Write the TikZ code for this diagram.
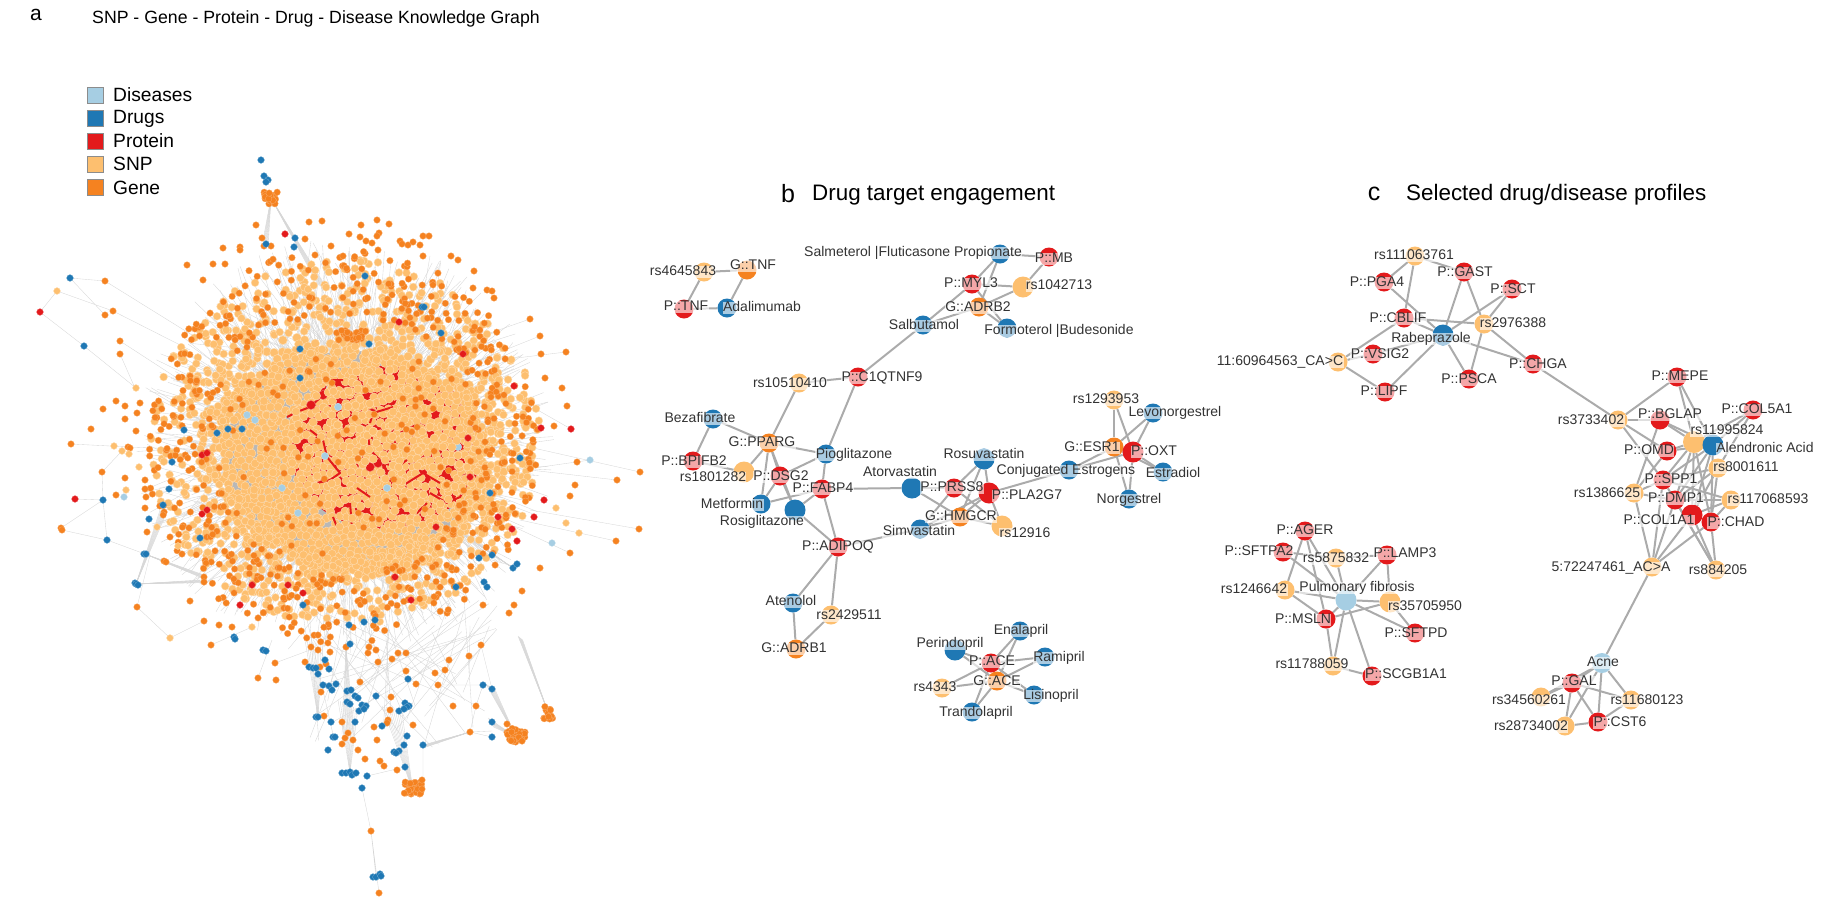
\documentclass[tikz,border=0pt]{standalone}
\usepackage{fontspec}
\setmainfont{Liberation Sans}
\usetikzlibrary{backgrounds}
\definecolor{cDis}{HTML}{A6CEE3}
\definecolor{cDrug}{HTML}{1F78B4}
\definecolor{cProt}{HTML}{E31A1C}
\definecolor{cSnp}{HTML}{FDBF6F}
\definecolor{cGene}{HTML}{F58220}
\definecolor{cLnk}{HTML}{ABABAB}
\newcommand{\dotlist}[3]{\foreach \p in {#3} \filldraw[#1] \p circle (#2);}
% cluster of dots round one spot
\newcommand{\dotblob}[6]{\foreach \k in {1,...,#6} {
    \pgfmathsetmacro\bx{#2+rand*#4}
    \pgfmathsetmacro\by{#3+rand*#5}
    \filldraw[#1] (\bx,\by) circle (3.3);}}
% bundle of wires from one spot to a run of spots
\newcommand{\wirefan}[5]{\foreach \k in {0,...,9} \draw[wire] (#1) -- ({#2+\k*#4},{#3+\k*#5});}
\tikzset{
  dis/.style={circle,fill=cDis,minimum size=20pt,inner sep=0pt},
  drug/.style={circle,fill=cDrug,minimum size=19pt,inner sep=0pt},
  prot/.style={circle,fill=cProt,minimum size=19pt,inner sep=0pt},
  snp/.style={circle,fill=cSnp,minimum size=19pt,inner sep=0pt},
  gene/.style={circle,fill=cGene,minimum size=19pt,inner sep=0pt},
  lab/.style={font=\fontsize{14}{14}\selectfont,text=black!80,fill=white,fill opacity=.62,text opacity=1,inner xsep=.4pt,inner ysep=0pt,text height=10pt,text depth=2.5pt},
  lnk/.style={draw=cLnk,line width=2pt},
  wire/.style={draw=black!16,line width=.35pt},
  ddis/.style={fill=cDis,draw=cDis!60!white,line width=.3pt},
  ddrug/.style={fill=cDrug,draw=cDrug!60!white,line width=.3pt},
  dprot/.style={fill=cProt,draw=cProt!60!white,line width=.3pt},
  dsnp/.style={fill=cSnp,draw=cSnp!55!white,line width=.4pt},
  dgene/.style={fill=cGene,draw=cGene!65!white,line width=.3pt},
  swatch/.style={draw=black!45,line width=.4pt,minimum width=15.5pt,minimum height=16.5pt,inner sep=0pt},
  legtxt/.style={font=\fontsize{19.2}{20}\selectfont,anchor=west,inner sep=0pt},
  headtxt/.style={font=\fontsize{22.4}{24}\selectfont,anchor=west,inner sep=0pt},
  tag/.style={font=\fontsize{25}{26}\selectfont,inner sep=0pt}
}
\begin{document}
\begin{tikzpicture}[x=1pt,y=-1pt]
\useasboundingbox (0,0) rectangle (1833,916);
\pgfmathsetseed{4711}
% a: titles and legend
\node[tag,font=\fontsize{21}{22}\selectfont] (tagA) at (36,15) {a};
\node[anchor=west,inner sep=0pt,font=\fontsize{17.7}{20}\selectfont] (titleA) at (92,19) {SNP - Gene - Protein - Drug - Disease Knowledge Graph};
\node[swatch,fill=cDis] (swDis) at (95,95) {};
\node[swatch,fill=cDrug] (swDrug) at (95,118) {};
\node[swatch,fill=cProt] (swProt) at (95,141) {};
\node[swatch,fill=cSnp] (swSnp) at (95,164) {};
\node[swatch,fill=cGene] (swGene) at (95,187) {};
\node[legtxt] (txDis) at (113,95) {Diseases};
\node[legtxt] (txDrug) at (113,119) {Drugs};
\node[legtxt] (txProt) at (113,141) {Protein};
\node[legtxt] (txSnp) at (113,164) {SNP};
\node[legtxt] (txGene) at (113,188) {Gene};
% a: thin wires of the cloud
\foreach \i in {1,...,850} {
  \pgfmathsetmacro\aa{rnd*360}
  \pgfmathsetmacro\ra{120+rnd*90}
  \pgfmathsetmacro\rb{rnd*110}
  \pgfmathsetmacro\ab{\aa+rand*35}
  \draw[wire] ({345+\ra*cos(\aa)},{447+\ra*sin(\aa)}) -- ({345+\rb*cos(\ab)},{447+\rb*sin(\ab)});
}
\foreach \i in {1,...,45} {
  \pgfmathsetmacro\xa{300+rnd*200}
  \pgfmathsetmacro\xb{310+rnd*190}
  \pgfmathsetmacro\ya{600+rnd*40}
  \pgfmathsetmacro\yb{670+rnd*80}
  \draw[wire] (\xa,\ya) -- (\xb,\yb);
}
\wirefan{271,198}{318}{285}{1}{.4}
\wirefan{271,198}{263}{240}{.6}{.3}
\wirefan{413,791}{382}{706}{2.2}{.6}
\wirefan{516,737}{486}{684}{1}{.6}
\wirefan{516,737}{488}{718}{.6}{1}
\wirefan{548,712}{518}{636}{.5}{.4}
\wirefan{346,647}{342}{734}{1.4}{.2}
\wirefan{350,773}{338}{700}{2.2}{1}
\wirefan{318,717}{305}{640}{2}{.5}
\wirefan{136,584}{200}{580}{.2}{.3}
\wirefan{136,584}{160}{510}{.6}{.6}
\wirefan{145,554}{204}{575}{.2}{.5}
\wirefan{470,732}{423}{745}{.4}{.2}
\wirefan{513,568}{440}{520}{2}{1}
\draw[wire] (70,278) -- (105,281) -- (200,340) (57,291) -- (40,312) -- (84,346) -- (136,388) (57,291) -- (113,311) -- (190,350) (70,278) -- (105,315)
  (120,341) -- (180,380) (120,354) -- (135,388) (103,500) -- (75,499) (103,500) -- (61,528) (103,500) -- (102,472) (103,500) -- (107,540) -- (62,530)
  (107,540) -- (145,554) (102,472) -- (122,451) (71,444) -- (130,447) -- (200,450) (137,607) -- (170,638) -- (204,621) (137,607) -- (150,555)
  (211,645) -- (252,627) (379,893) -- (371,831) -- (376,877) (371,831) -- (362,788) (367,776) -- (405,767) (423,745) -- (423,790)
  (492,731) -- (470,732) (483,685) -- (438,685) (492,737) -- (470,732) (483,685) -- (476,706) -- (470,732) (481,645) -- (492,689)
  (590,460) -- (520,470) (640,472) -- (520,445) (617,480) -- (530,470) (616,541) -- (520,520) (639,529) -- (530,510) (571,429) -- (520,400)
  (566,352) -- (500,360) (570,553) -- (510,525) (530,319) -- (470,340) (540,336) -- (480,360) (275,663) -- (310,650) (258,678) -- (272,640);
% a: what shows between the SNPs of the core
\fill[black!28] (352,457) ellipse (128 and 106);
\fill[cProt] (385,448) ellipse (95 and 82);
\dotlist{ddis}{3.8}{(282,488),(338,407),(325,456),(298,513),(247,415),(255,420),(208,410),(458,447),(423,535),(422,500),(387,488),(330,388)}
% a: SNP core on a shaken grid, some places left open
\foreach \i in {0,...,41} \foreach \j in {0,...,39} {
  \pgfmathsetmacro\xx{205+7.3*\i+3.65*mod(\j,2)+rand*1.8}
  \pgfmathsetmacro\yy{332+6.4*\j+rand*1.8}
  \pgfmathsetmacro\dd{((\xx-353)/146)^2+((\yy-457)/124)^2}
  \pgfmathsetmacro\hh{((\xx-385)/92)^2+((\yy-448)/80)^2<1 ? .09 : .04}
  \pgfmathtruncatemacro\inn{and(\dd<1+.2*rand,rnd>\hh)}
  \ifnum\inn=1 \filldraw[dsnp] (\xx,\yy) circle (4.4); \fi
}
% a: red threads left open in the core
\draw[cProt,line width=2pt,line join=round] (287,417) -- (297,412) -- (310,407) -- (323,395) -- (333,390)
  (310,430) -- (323,440) -- (327,457) -- (340,473) -- (330,480) -- (317,483)
  (368,435) -- (370,450) -- (383,463) -- (397,467) -- (407,460)
  (387,480) -- (407,483) -- (423,473) -- (440,483)
  (357,488) -- (370,497) (430,493) -- (447,503) -- (460,497) -- (473,473)
  (393,407) -- (373,413) -- (370,423) (330,380) -- (343,380)
  (400,513) -- (417,513) -- (427,503) (333,517) -- (337,527) (350,503) -- (352,527);
\dotlist{dprot}{4.5}{(323,395),(311,405),(372,413),(472,475),(466,478),(370,467),(378,463)}
\foreach \i in {1,...,330} {
  \pgfmathsetmacro\aa{rnd*360}
  \pgfmathsetmacro\ra{sqrt(rnd)}
  \pgfmathsetmacro\xx{352+135*\ra*cos(\aa)}
  \pgfmathsetmacro\yy{457+115*\ra*sin(\aa)}
  \filldraw[dsnp] (\xx,\yy) circle (4.2);
}
\dotlist{ddis}{3.6}{(282,488),(338,407),(325,456),(298,513),(247,415),(255,420),(387,488)}
% a: loose SNPs and genes round the core
\foreach \i in {1,...,900} {
  \pgfmathsetmacro\aa{rnd*360}
  \pgfmathsetmacro\ra{.66+.38*rnd}
  \pgfmathsetmacro\xx{345+188*\ra*cos(\aa)}
  \pgfmathsetmacro\yy{442+176*\ra*sin(\aa)}
  \filldraw[dsnp] (\xx,\yy) circle (3.9);
}
\foreach \i in {1,...,520} {
  \pgfmathsetmacro\aa{rnd*360}
  \pgfmathsetmacro\ra{.7+.36*rnd}
  \pgfmathsetmacro\xx{342+185*\ra*cos(\aa)}
  \pgfmathsetmacro\yy{445+188*\ra*sin(\aa)}
  \filldraw[dgene] (\xx,\yy) circle (3.3);
}
\foreach \i in {1,...,90} {
  \pgfmathsetmacro\aa{rnd*360}
  \pgfmathsetmacro\ra{sqrt(rnd)}
  \pgfmathsetmacro\xx{352+140*\ra*cos(\aa)}
  \pgfmathsetmacro\yy{457+118*\ra*sin(\aa)}
  \filldraw[dgene] (\xx,\yy) circle (3.3);
}
\dotblob{dgene}{350}{335}{16}{5}{28}
\dotblob{dgene}{271}{198}{7}{6}{20}
\dotblob{dgene}{413}{788}{9}{6}{40}
\dotblob{dgene}{516}{735}{9}{7}{36}
\dotblob{dgene}{548}{712}{5}{7}{14}
\dotlist{dgene}{3.3}{(256,225),(262,238),(264,246),(271,246),(309,222),(322,221),(361,225),(377,220),(389,224),(349,234),(360,237),(379,233),(377,236),(366,241),(372,243),(378,250),(400,241),(402,244),(408,245),(413,242),(423,236),(429,236),(420,245),(305,239),(331,246),(223,248),(240,247),(240,250),(315,255),(343,256),(423,256),(451,256),(458,260),(187,265),(213,264),(225,264),(474,271),(487,290),(492,291),(494,298),(473,288),
  (105,281),(113,311),(105,315),(120,341),(120,354),(203,280),(116,401),(103,409),(125,406),(125,419),(140,403),(137,413),(91,429),(136,431),(71,444),(128,447),(130,448),(102,472),(125,478),(145,480),(145,489),(116,495),(146,497),(145,508),(61,528),(62,530),(147,532),(170,537),(164,561),(166,562),(182,554),(204,577),(204,582),
  (137,607),(190,601),(204,621),(219,625),(232,627),(211,645),(275,663),(258,678),(276,680),(379,893),(371,831),
  (311,647),(318,650),(330,652),(346,647),(318,635),(368,653),(369,647),(376,650),(398,653),(406,653),(378,662),(392,659),(305,662),(320,667),(326,664),(406,671),(360,682),(416,684),(435,673),(445,670),(449,660),(438,685),(469,656),(481,645),(321,692),(391,697),(390,710),(453,706),(476,706),(324,716),(342,722),(388,720),(387,723),(374,727),(413,725),(348,733),(345,738),(353,740),(342,744),(377,740),(358,750),(365,759),(380,761),(384,766),(397,770),(422,780),(470,732),(507,724),
  (483,605),(509,613),(514,605),(522,591),(540,568),(570,553),(616,541),(639,529),(530,319),(540,336),(541,354),(566,352),(545,378),(562,388),(567,406),(554,426),(577,462),(640,472),(617,480),(575,485),(570,496)}
\dotlist{dsnp}{3.4}{(57,291),(136,388),(114,446),(122,451),(129,454),(139,467),(126,490),(157,527),(178,546),(170,638),(252,627),(556,508),(566,523),(579,533)}
\dotlist{ddis}{3.4}{(124,497),(552,543),(590,460)}
\dotlist{dprot}{3.4}{(40,312),(285,234),(75,499),(202,455),(207,453),(202,514),(207,510),(288,585),(303,593),(240,605),(411,600),(252,585),(395,577),(498,517),(470,477),(468,438),(463,354),(399,322),(514,386),(541,428),(571,429),(512,529),(517,541),(544,500),(534,517),(436,527)}
\dotlist{ddrug}{3.4}{(70,278),(84,346),(103,500),(107,540),(149,519),(144,554),(146,554),(135,583),(136,584),(138,585),(261,160),(264,176),(268,180),(266,182),(295,238),(294,247),(266,244),(234,637),(235,639),(263,650),(266,651),
  (309,667),(313,668),(316,668),(318,674),(325,660),(329,669),(323,685),(329,686),(336,684),(332,690),(347,691),(351,690),(355,696),(358,698),(347,702),(350,704),(362,705),(366,706),(359,711),(364,709),(376,696),(316,717),(318,717),(331,722),(355,722),(333,737),(335,737),(328,750),(382,726),(399,711),(405,703),(409,706),(407,707),(404,709),(407,736),(404,745),(423,745),(394,752),(399,751),(396,753),(405,767),(342,773),(346,773),(350,772),(352,775),(356,773),(367,776),(362,788),(408,679),(483,685),(492,689),(492,722),(492,737),(349,625),(364,622),(375,620),(350,644),(456,587),(373,877),(376,877),(380,874),(381,876),
  (422,307),(424,307),(441,333),(369,344),(300,349),(365,276),(184,430),(217,433),(228,429),(242,429),(172,462),(169,489),(163,505),(200,538),(520,458),(490,493),(479,558),(492,555),(513,568),(517,564),(484,582),(487,587),(303,605),(300,378)}
% b: heading
\node[tag] (tagB) at (788,194) {b};
\node[headtxt] (headB) at (812,195) {Drug target engagement};
% b: nodes
\node[snp] (rs4645843) at (704,272) {};
\node[gene] (gTNF) at (747,270) {};
\node[prot] (pTNF) at (684,309) {};
\node[drug] (Adalimumab) at (727,308) {};
\node[drug] (Salmeterol) at (1000,254) {};
\node[prot] (pMB) at (1049,257) {};
\node[prot] (pMYL3) at (972,284) {};
\node[snp,minimum size=21pt] (rs1042713) at (1023,287) {};
\node[gene] (gADRB2) at (979,307) {};
\node[drug] (Salbutamol) at (923,325) {};
\node[drug] (Formoterol) at (1007,328) {};
\node[prot] (pC1QTNF9) at (858,377) {};
\node[snp] (rs10510410) at (799,383) {};
\node[drug] (Bezafibrate) at (713,419) {};
\node[gene] (gPPARG) at (769,443) {};
\node[drug] (Pioglitazone) at (826,454) {};
\node[prot] (pBPIFB2) at (693,461) {};
\node[snp,minimum size=21pt] (rs1801282) at (744,472) {};
\node[prot] (pDSG2) at (780,476) {};
\node[prot] (pFABP4) at (822,489) {};
\node[drug] (Metformin) at (761,504) {};
\node[drug,minimum size=21pt] (Rosiglitazone) at (795,510) {};
\node[drug,minimum size=21pt] (Atorvastatin) at (912,488) {};
\node[prot] (pPRSS8) at (954,488) {};
\node[drug,minimum size=21pt] (Rosuvastatin) at (984,459) {};
\node[prot,minimum size=21pt] (pPLA2G7) at (989,493) {};
\node[drug] (Conjugated) at (1069,470) {};
\node[gene] (gESR1) at (1114,447) {};
\node[prot,minimum size=21pt] (pOXT) at (1133,452) {};
\node[snp] (rs1293953) at (1114,400) {};
\node[drug] (Levonorgestrel) at (1153,413) {};
\node[drug] (Estradiol) at (1163,472) {};
\node[drug] (Norgestrel) at (1129,499) {};
\node[gene] (gHMGCR) at (960,517) {};
\node[snp,minimum size=21pt] (rs12916) at (1002,526) {};
\node[drug] (Simvastatin) at (920,529) {};
\node[prot] (pADIPOQ) at (838,547) {};
\node[drug] (Atenolol) at (793,603) {};
\node[snp] (rs2429511) at (831,615) {};
\node[gene] (gADRB1) at (796,649) {};
\node[drug] (Enalapril) at (1020,631) {};
\node[drug,minimum size=21pt] (Perindopril) at (955,650) {};
\node[prot] (pACE) at (991,663) {};
\node[drug] (Ramipril) at (1045,657) {};
\node[gene] (gACE) at (997,681) {};
\node[snp] (rs4343) at (942,688) {};
\node[drug] (Lisinopril) at (1034,695) {};
\node[drug] (Trandolapril) at (972,712) {};
% c: nodes
\node[snp] (rs111063761) at (1415,256) {};
\node[prot] (pPGA4) at (1384,282) {};
\node[prot] (pGAST) at (1464,272) {};
\node[prot] (pSCT) at (1512,289) {};
\node[prot] (pCBLIF) at (1404,318) {};
\node[snp] (rs2976388) at (1484,324) {};
\node[drug,minimum size=21pt] (Rabeprazole) at (1443,335) {};
\node[prot] (pVSIG2) at (1373,354) {};
\node[snp] (rsCAC) at (1338,362) {};
\node[prot] (pLIPF) at (1385,392) {};
\node[prot] (pPSCA) at (1469,379) {};
\node[prot] (pCHGA) at (1533,364) {};
\node[prot] (pMEPE) at (1677,377) {};
\node[snp] (rs3733402) at (1618,420) {};
\node[prot] (pBGLAP) at (1660,420) {};
\node[prot] (pCOL5A1) at (1753,410) {};
\node[snp,minimum size=22pt] (rs11995824) at (1694,442) {};
\node[drug,minimum size=21pt] (Alendronic) at (1713,445) {};
\node[prot] (pOMD) at (1667,451) {};
\node[snp] (rs8001611) at (1718,468) {};
\node[prot] (pSPP1) at (1663,480) {};
\node[snp] (rs1386625) at (1634,493) {};
\node[prot] (pDMP1) at (1675,500) {};
\node[snp] (rs117068593) at (1731,500) {};
\node[prot,minimum size=21pt] (pCOL1A1) at (1692,515) {};
\node[prot] (pCHAD) at (1711,522) {};
\node[snp] (rsACA) at (1652,567) {};
\node[snp] (rs884205) at (1716,570) {};
\node[prot] (pAGER) at (1305,531) {};
\node[prot] (pSFTPA2) at (1283,552) {};
\node[snp] (rs5875832) at (1336,558) {};
\node[prot] (pLAMP3) at (1387,555) {};
\node[snp] (rs1246642) at (1285,590) {};
\node[dis,minimum size=21pt] (Pulmonary) at (1346,600) {};
\node[snp,minimum size=21pt] (rs35705950) at (1390,602) {};
\node[prot] (pMSLN) at (1326,619) {};
\node[prot] (pSFTPD) at (1415,633) {};
\node[snp] (rs11788059) at (1333,666) {};
\node[prot] (pSCGB1A1) at (1372,676) {};
\node[dis] (Acne) at (1602,663) {};
\node[prot] (pGAL) at (1572,683) {};
\node[snp] (rs34560261) at (1541,697) {};
\node[snp] (rs11680123) at (1631,700) {};
\node[snp] (rs28734002) at (1565,726) {};
\node[prot] (pCST6) at (1598,722) {};
% edges under the nodes
\begin{pgfonlayer}{background}
\path[lnk]
  (rs4645843) edge (gTNF) edge (pTNF)
  (Adalimumab) edge (gTNF) edge (pTNF)
  (Salmeterol) edge (pMB) edge (pMYL3) edge (gADRB2)
  (rs1042713) edge (pMB) edge (pMYL3) edge (gADRB2)
  (Salbutamol) edge (pMYL3) edge (gADRB2) edge (pC1QTNF9)
  (Formoterol) edge (pMYL3) edge (gADRB2)
  (rs10510410) edge (pC1QTNF9) edge (gPPARG)
  (pC1QTNF9) edge (Pioglitazone)
  (gPPARG) edge (Bezafibrate) edge (Pioglitazone) edge (rs1801282) edge (pDSG2) edge (Metformin) edge (Rosiglitazone)
  (pBPIFB2) edge (Bezafibrate) edge (rs1801282)
  (Pioglitazone) edge (pDSG2) edge (pFABP4)
  (pDSG2) edge (Metformin) edge (Rosiglitazone)
  (pFABP4) edge (Metformin) edge (Rosiglitazone) edge (Atorvastatin) edge (pADIPOQ)
  (pADIPOQ) edge (Rosiglitazone) edge (Simvastatin) edge (Atenolol) edge (rs2429511)
  (gADRB1) edge (Atenolol) edge (rs2429511)
  (pPRSS8) edge (Atorvastatin) edge (Rosuvastatin) edge (Simvastatin) edge (rs12916)
  (gHMGCR) edge (Atorvastatin) edge (Rosuvastatin) edge (pPLA2G7) edge (rs12916) edge (Simvastatin)
  (pPLA2G7) edge (Rosuvastatin) edge (rs12916) edge (Simvastatin) edge (Conjugated)
  (Conjugated) edge (gESR1) edge (pOXT)
  (rs1293953) edge (gESR1) edge (pOXT)
  (Levonorgestrel) edge (gESR1) edge (pOXT)
  (Estradiol) edge (gESR1) edge (pOXT)
  (Norgestrel) edge (gESR1) edge (pOXT);
\foreach \s in {Enalapril,Perindopril,Ramipril,Lisinopril,rs4343,Trandolapril}
  \path[lnk] (\s) edge (pACE) edge (gACE);
\path[lnk]
  (rs111063761) edge (pPGA4) edge (pGAST) edge (pCBLIF)
  (Rabeprazole) edge (pPGA4) edge (pGAST) edge (pSCT) edge (pCBLIF) edge (pVSIG2) edge (pLIPF) edge (pPSCA) edge (pCHGA)
  (rs2976388) edge (pGAST) edge (pSCT) edge (pCBLIF) edge (pPSCA) edge (pCHGA)
  (rsCAC) edge (pCBLIF) edge (pVSIG2) edge (pLIPF)
  (rs3733402) edge (pCHGA) edge (pMEPE) edge (pBGLAP) edge (pOMD) edge (pSPP1)
  (pMEPE) edge (rs11995824) edge (Alendronic)
  (pCOL5A1) edge (rs11995824) edge (Alendronic) edge (rs8001611)
  (pBGLAP) edge (rs1386625) edge (rs11995824) edge (Alendronic)
  (pOMD) edge (rs1386625) edge (rs11995824) edge (Alendronic)
  (rs1386625) edge (pSPP1) edge (pDMP1) edge (rsACA);
\foreach \s in {pSPP1,pDMP1,pCOL1A1,pCHAD}
  \path[lnk] (\s) edge (rs11995824) edge (Alendronic) edge (rs8001611) edge (rs117068593);
\path[lnk]
  (pSPP1) edge (rsACA) edge (rs884205)
  (pDMP1) edge (rsACA) edge (rs884205)
  (pCOL1A1) edge (rsACA) edge (rs884205)
  (pCHAD) edge (rsACA) edge (rs884205)
  (rsACA) edge (Acne)
  (pAGER) edge (rs1246642) edge (Pulmonary) edge (pMSLN)
  (pSFTPA2) edge (rs5875832) edge (Pulmonary)
  (rs5875832) edge (pLAMP3) edge (Pulmonary)
  (pLAMP3) edge (Pulmonary) edge (rs35705950)
  (rs1246642) edge (Pulmonary) edge (pMSLN)
  (pMSLN) edge (Pulmonary) edge (rs35705950) edge (rs11788059)
  (Pulmonary) edge (rs35705950) edge (pSFTPD) edge (rs11788059) edge (pSCGB1A1)
  (rs35705950) edge (pSFTPD)
  (rs11788059) edge (pSCGB1A1)
  (Acne) edge (pGAL) edge (rs34560261) edge (rs11680123) edge (pCST6) edge (rs28734002)
  (pGAL) edge (rs34560261) edge (rs11680123) edge (rs28734002) edge (pCST6)
  (pCST6) edge (rs11680123) edge (rs28734002);
\end{pgfonlayer}
% b: labels
\node[lab] (lbA1) at (683,272) {rs4645843};
\node[lab] (lbA2) at (753,266) {G::TNF};
\node[lab] (lbA3) at (686,307) {P::TNF};
\node[lab] (lbA4) at (762,308) {Adalimumab};
\node[lab] (lbA5) at (913,253) {Salmeterol |Fluticasone Propionate};
\node[lab] (lbA6) at (1054,259) {P::MB};
\node[lab] (lbA7) at (971,284) {P::MYL3};
\node[lab] (lbA8) at (1059,286) {rs1042713};
\node[lab] (lbA9) at (978,308) {G::ADRB2};
\node[lab] (lbA10) at (924,326) {Salbutamol};
\node[lab] (lbA11) at (1059,331) {Formoterol |Budesonide};
\node[lab] (lbA12) at (882,378) {P::C1QTNF9};
\node[lab] (lbA13) at (790,384) {rs10510410};
\node[lab] (lbA14) at (700,419) {Bezafibrate};
\node[lab] (lbA15) at (762,443) {G::PPARG};
\node[lab] (lbA16) at (854,455) {Pioglitazone};
\node[lab] (lbA17) at (694,462) {P::BPIFB2};
\node[lab] (lbA18) at (713,478) {rs1801282};
\node[lab] (lbA19) at (781,477) {P::DSG2};
\node[lab] (lbA20) at (823,489) {P::FABP4};
\node[lab] (lbA21) at (732,505) {Metformin};
\node[lab] (lbA22) at (762,522) {Rosiglitazone};
\node[lab] (lbA23) at (900,473) {Atorvastatin};
\node[lab] (lbA24) at (952,488) {P::PRSS8};
\node[lab] (lbA25) at (984,455) {Rosuvastatin};
\node[lab] (lbA26) at (1027,496) {P::PLA2G7};
\node[lab] (lbA27) at (1066,471) {Conjugated Estrogens};
\node[lab] (lbA28) at (1092,448) {G::ESR1};
\node[lab] (lbA29) at (1154,452) {P::OXT};
\node[lab] (lbA30) at (1106,400) {rs1293953};
\node[lab] (lbA31) at (1175,413) {Levonorgestrel};
\node[lab] (lbA32) at (1173,474) {Estradiol};
\node[lab] (lbA33) at (1129,500) {Norgestrel};
\node[lab] (lbA34) at (961,517) {G::HMGCR};
\node[lab] (lbA35) at (1025,534) {rs12916};
\node[lab] (lbA36) at (919,532) {Simvastatin};
\node[lab] (lbA37) at (838,547) {P::ADIPOQ};
\node[lab] (lbA38) at (791,602) {Atenolol};
\node[lab] (lbA39) at (849,616) {rs2429511};
\node[lab] (lbA40) at (794,649) {G::ADRB1};
\node[lab] (lbA41) at (1021,631) {Enalapril};
\node[lab] (lbA42) at (950,644) {Perindopril};
\node[lab] (lbA43) at (992,662) {P::ACE};
\node[lab] (lbA44) at (1059,658) {Ramipril};
\node[lab] (lbA45) at (997,682) {G::ACE};
\node[lab] (lbA46) at (935,688) {rs4343};
\node[lab] (lbA47) at (1051,696) {Lisinopril};
\node[lab] (lbA48) at (976,713) {Trandolapril};
% c: heading and labels
\node[tag] (tagC) at (1374,194) {c};
\node[headtxt] (headC) at (1406,195) {Selected drug/disease profiles};
\node[lab] (lbB1) at (1414,256) {rs111063761};
\node[lab] (lbB2) at (1377,283) {P::PGA4};
\node[lab] (lbB3) at (1465,273) {P::GAST};
\node[lab] (lbB4) at (1513,290) {P::SCT};
\node[lab] (lbB5) at (1398,319) {P::CBLIF};
\node[lab] (lbB6) at (1513,324) {rs2976388};
\node[lab] (lbB7) at (1431,339) {Rabeprazole};
\node[lab] (lbB8) at (1380,355) {P::VSIG2};
\node[lab] (lbB9) at (1280,362) {11:60964563\_CA>C};
\node[lab] (lbB10) at (1384,392) {P::LIPF};
\node[lab] (lbB11) at (1469,380) {P::PSCA};
\node[lab] (lbB12) at (1538,365) {P::CHGA};
\node[lab] (lbB13) at (1680,377) {P::MEPE};
\node[lab] (lbB14) at (1591,421) {rs3733402};
\node[lab] (lbB15) at (1670,415) {P::BGLAP};
\node[lab] (lbB16) at (1757,410) {P::COL5A1};
\node[lab] (lbB17) at (1727,431) {rs11995824};
\node[lab] (lbB18) at (1765,449) {Alendronic Acid};
\node[lab] (lbB19) at (1649,451) {P::OMD};
\node[lab] (lbB20) at (1746,468) {rs8001611};
\node[lab] (lbB21) at (1671,480) {P::SPP1};
\node[lab] (lbB22) at (1607,494) {rs1386625};
\node[lab] (lbB23) at (1676,499) {P::DMP1};
\node[lab] (lbB24) at (1768,500) {rs117068593};
\node[lab] (lbB25) at (1659,521) {P::COL1A1};
\node[lab] (lbB26) at (1736,523) {P::CHAD};
\node[lab] (lbB27) at (1611,568) {5:72247461\_AC>A};
\node[lab] (lbB28) at (1718,571) {rs884205};
\node[lab] (lbB29) at (1305,531) {P::AGER};
\node[lab] (lbB30) at (1259,552) {P::SFTPA2};
\node[lab] (lbB31) at (1336,559) {rs5875832};
\node[lab] (lbB32) at (1405,554) {P::LAMP3};
\node[lab] (lbB33) at (1254,590) {rs1246642};
\node[lab] (lbB34) at (1357,588) {Pulmonary fibrosis};
\node[lab] (lbB35) at (1425,607) {rs35705950};
\node[lab] (lbB36) at (1303,620) {P::MSLN};
\node[lab] (lbB37) at (1416,634) {P::SFTPD};
\node[lab] (lbB38) at (1312,665) {rs11788059};
\node[lab] (lbB39) at (1406,675) {P::SCGB1A1};
\node[lab] (lbB40) at (1603,663) {Acne};
\node[lab] (lbB41) at (1574,682) {P::GAL};
\node[lab] (lbB42) at (1529,701) {rs34560261};
\node[lab] (lbB43) at (1647,701) {rs11680123};
\node[lab] (lbB44) at (1531,727) {rs28734002};
\node[lab] (lbB45) at (1620,723) {P::CST6};
\end{tikzpicture}
\end{document}
